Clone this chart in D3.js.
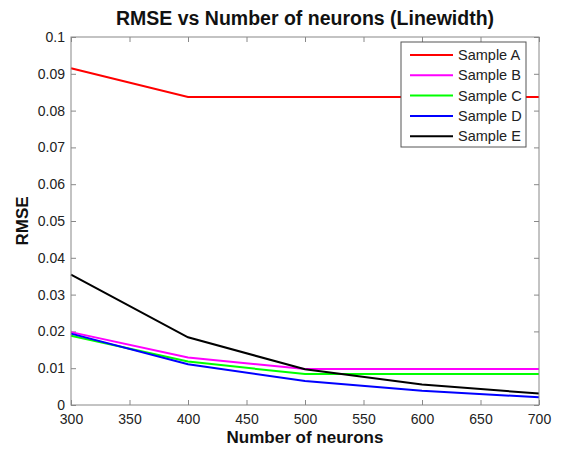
<!DOCTYPE html>
<html>
<head>
<meta charset="utf-8">
<script src="https://cdn.jsdelivr.net/npm/d3@7"></script>
<style>
  body { margin: 0; background: #fff; }
  text { font-family: "Liberation Sans", Arial, sans-serif; }
</style>
</head>
<body>
<svg></svg>
<script>
// chart size
var width = 561;
var height = 449;
var svg = d3.select("svg").attr("width", width).attr("height", height);

var margin = { top: 37, right: 22, bottom: 44, left: 71 };
var plotW = width - margin.left - margin.right;
var plotH = height - margin.top - margin.bottom;

// data
var neurons = [300, 400, 500, 600, 700];
var sampleA = [0.0915, 0.0837, 0.0837, 0.0837, 0.0837];
var sampleB = [0.0198, 0.0129, 0.0098, 0.0098, 0.0098];
var sampleC = [0.0188, 0.0118, 0.0084, 0.0084, 0.0084];
var sampleD = [0.0194, 0.0111, 0.0065, 0.0039, 0.0021];
var sampleE = [0.0354, 0.0184, 0.0097, 0.0056, 0.0031];
var names = ["Sample A", "Sample B", "Sample C", "Sample D", "Sample E"];
var colors = ["#ff0000", "#ff00ff", "#00ff00", "#0000ff", "#000000"];
var xTicks = [300, 350, 400, 450, 500, 550, 600, 650, 700];
var yTicks = [0, 0.01, 0.02, 0.03, 0.04, 0.05, 0.06, 0.07, 0.08, 0.09, 0.1];
var series = [sampleA, sampleB, sampleC, sampleD, sampleE];

var g = svg.append("g").attr("transform", "translate(" + margin.left + "," + margin.top + ")");

var x = d3.scaleLinear().domain([300, 700]).range([0, plotW]);
var y = d3.scaleLinear().domain([0, 0.1]).range([plotH, 0]);

var axisColor = "#888";

// axes (ticks inward, mirrored)
function styleAxis(sel) {
    sel.select(".domain").remove();
    sel.selectAll(".tick line").attr("stroke", axisColor);
    sel.selectAll(".tick text").attr("fill", "#222").attr("font-size", "14px");
}

g.append("g")
    .attr("transform", "translate(0," + plotH + ")")
    .call(d3.axisBottom(x).tickValues(xTicks).tickSize(-5).tickPadding(9).tickFormat(d3.format("d")))
    .call(styleAxis);

g.append("g")
    .call(d3.axisTop(x).tickValues(xTicks).tickSize(-5).tickFormat(""))
    .call(styleAxis);

g.append("g")
    .call(d3.axisLeft(y).tickValues(yTicks).tickSize(-5).tickPadding(6).tickFormat(d => d === 0 ? "0" : d3.format("")(+d.toFixed(2))))
    .call(styleAxis);

g.append("g")
    .attr("transform", "translate(" + plotW + ",0)")
    .call(d3.axisRight(y).tickValues(yTicks).tickSize(-5).tickFormat(""))
    .call(styleAxis);

// lines
var line = d3.line()
    .x((d, i) => x(neurons[i]))
    .y(d => y(d));

series.forEach((s, k) => {
    g.append("path")
        .attr("d", line(s))
        .attr("fill", "none")
        .attr("stroke", colors[k])
        .attr("stroke-width", 2);
});

// box
g.append("rect")
    .attr("width", plotW).attr("height", plotH)
    .attr("fill", "none").attr("stroke", axisColor).attr("stroke-width", 1);

// legend
var lg = svg.append("g").attr("transform", "translate(401,42)");
lg.append("rect")
    .attr("width", 125).attr("height", 105)
    .attr("fill", "#fff").attr("stroke", "#555").attr("stroke-width", 1);

names.forEach((name, i) => {
    var ly = 13 + i * 20.3;
    lg.append("line")
        .attr("x1", 9).attr("x2", 52)
        .attr("y1", ly).attr("y2", ly)
        .attr("stroke", colors[i]).attr("stroke-width", 2);
    lg.append("text")
        .attr("x", 57).attr("y", ly + 5)
        .attr("font-size", "14.5px")
        .attr("fill", "#222")
        .text(name);
});

// title and axis labels
svg.append("text")
    .attr("x", margin.left + plotW / 2).attr("y", 25)
    .attr("text-anchor", "middle")
    .attr("font-size", "19.5px").attr("font-weight", "bold")
    .attr("fill", "#111")
    .text("RMSE vs Number of neurons (Linewidth)");

svg.append("text")
    .attr("x", margin.left + plotW / 2).attr("y", 443)
    .attr("text-anchor", "middle")
    .attr("font-size", "17px").attr("font-weight", "bold")
    .attr("fill", "#111")
    .text("Number of neurons");

svg.append("text")
    .attr("transform", "translate(28," + (margin.top + plotH / 2) + ") rotate(-90)")
    .attr("text-anchor", "middle")
    .attr("font-size", "17px").attr("font-weight", "bold")
    .attr("fill", "#111")
    .text("RMSE");
</script>
</body>
</html>
